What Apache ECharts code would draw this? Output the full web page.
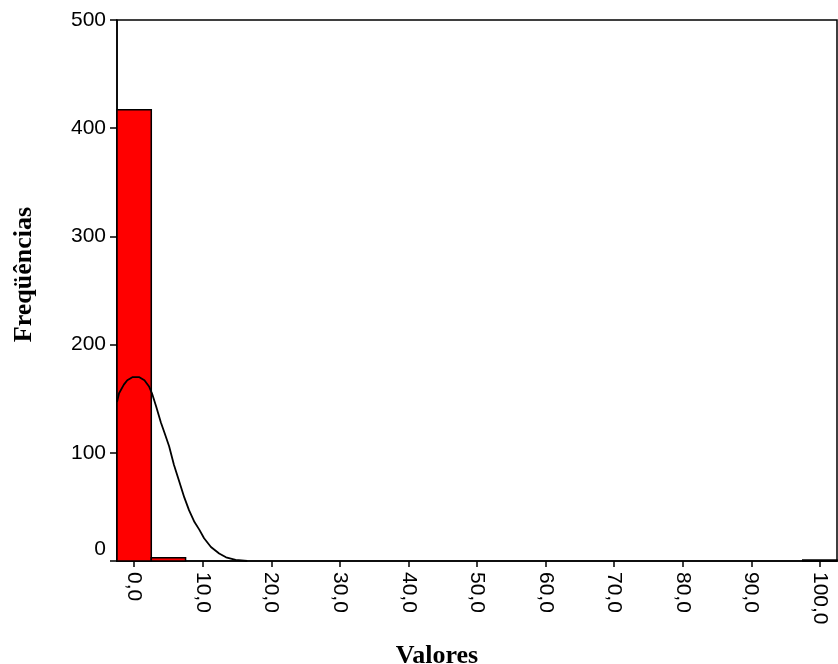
<!DOCTYPE html>
<html>
<head>
<meta charset="utf-8">
<script src="https://cdn.jsdelivr.net/npm/echarts@6/dist/echarts.min.js"></script>
<style>
  html, body { margin: 0; padding: 0; background: #ffffff; }
  #chart { width: 838px; height: 664px; }
</style>
</head>
<body>
<div id="chart"></div>
<script>
// Histogram bins: centre of each class and its frequency (class width 5)
const binCenters = [0, 5, 10, 15, 20, 25, 30, 35, 40, 45, 50, 55, 60, 65, 70, 75, 80, 85, 90, 95, 100];
const binCounts  = [417, 3, 0, 0, 0, 0, 0, 0, 0, 0, 0, 0, 0, 0, 0, 0, 0, 0, 0, 0, 1];
const binWidth = 5;

// Fitted normal curve, sampled points
const curveX = [-2.5, -2.2, -1.5, -1.0, -0.2, 0.7, 1.5, 2.2, 2.6, 3.2, 3.9, 4.4, 5.1, 5.8, 6.6, 7.3, 8.0, 8.8, 9.5, 10.2, 11.2, 12.4, 13.4, 14.8, 16.5];
const curveY = [147, 155, 163, 167, 170, 170, 167, 161, 155, 143, 128, 119, 106, 89, 73, 59, 47, 36, 29, 21, 13, 7, 3.4, 1, 0];

// Axis ticks
const xTicks = [0, 10, 20, 30, 40, 50, 60, 70, 80, 90, 100];
const yMin = 0, yMax = 500, yStep = 100;

const histData = binCenters.map((c, i) => [c, binCounts[i]]);
const curveData = curveX.map((x, i) => [x, curveY[i]]);

const chart = echarts.init(document.getElementById('chart'), null, { renderer: 'canvas' });

const tickFont = { fontFamily: '"Liberation Sans", Arial, sans-serif', fontSize: 21, color: '#000' };
const titleFont = { fontFamily: '"Liberation Serif", "Times New Roman", serif', fontWeight: 'bold', fontSize: 26, color: '#000' };

chart.setOption({
  animation: false,
  backgroundColor: '#ffffff',
  grid: {
    left: 117, right: 1, top: 20, bottom: 103,
    outerBoundsMode: 'none',
    containLabel: false,
    show: true, borderColor: '#000', borderWidth: 1.5, backgroundColor: 'transparent'
  },
  xAxis: {
    type: 'value',
    min: binCenters[0] - binWidth / 2,
    max: binCenters[binCenters.length - 1] + binWidth / 2,
    name: 'Valores',
    nameLocation: 'middle',
    nameGap: 82,
    nameTextStyle: Object.assign({ padding: [0, 80, 0, 0] }, titleFont),
    splitLine: { show: false },
    axisLine: { show: true, onZero: false, lineStyle: { color: '#000', width: 1.5 } },
    axisTick: { show: true, inside: false, length: 6, customValues: xTicks, lineStyle: { color: '#000', width: 1.5 } },
    axisLabel: Object.assign({
      customValues: xTicks,
      rotate: -90,
      margin: 11,
      formatter: v => v.toFixed(1).replace('.', ',')
    }, tickFont)
  },
  yAxis: {
    type: 'value',
    min: yMin, max: yMax, interval: yStep,
    name: 'Freqüências',
    nameLocation: 'middle',
    nameGap: 80,
    nameTextStyle: Object.assign({ padding: [0, 0, 0, 32] }, titleFont),
    splitLine: { show: false },
    axisLine: { show: true, onZero: false, lineStyle: { color: '#000', width: 1.5 } },
    axisTick: { show: true, inside: false, length: 7, lineStyle: { color: '#000', width: 1.5 } },
    axisLabel: Object.assign({
      margin: 11,
      formatter: v => v === 0 ? '{z|0}' : String(v),
      rich: { z: Object.assign({ padding: [0, 0, 24, 0] }, tickFont) }
    }, tickFont)
  },
  series: [
    {
      type: 'custom',
      data: histData,
      renderItem: function (params, api) {
        const c = api.value(0), n = api.value(1);
        if (!n) return null;
        const p0 = api.coord([c - binWidth / 2, 0]);
        const p1 = api.coord([c + binWidth / 2, n]);
        return {
          type: 'rect',
          shape: { x: p0[0], y: p1[1], width: p1[0] - p0[0], height: p0[1] - p1[1] },
          style: { fill: '#ff0000', stroke: '#000', lineWidth: 1.5 }
        };
      },
      z: 2
    },
    {
      type: 'line',
      data: curveData,
      showSymbol: false,
      smooth: false,
      lineStyle: { color: '#000', width: 1.8 },
      z: 3
    }
  ]
});
</script>
</body>
</html>
